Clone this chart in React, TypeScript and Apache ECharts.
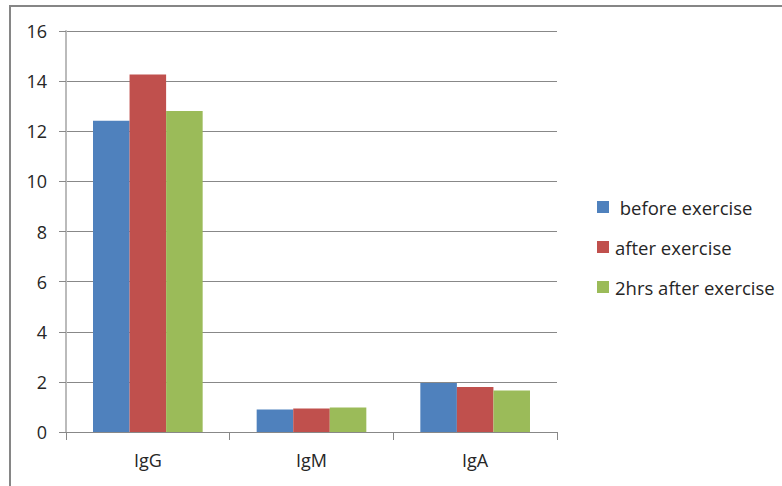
import React, { useEffect, useRef } from "react";
import * as echarts from "echarts";

const categories = ["IgG", "IgM", "IgA"];
const seriesNames = ["before exercise", "after exercise", "2hrs after exercise"];
const beforeExercise = [12.42, 0.9, 1.96];
const afterExercise = [14.26, 0.94, 1.8];
const twoHrsAfter = [12.81, 0.98, 1.66];
const colors = ["#4F81BD", "#C0504D", "#9BBB59"];

export default function App() {
  const ref = useRef<HTMLDivElement>(null);
  useEffect(() => {
    if (!ref.current) return;
    const chart = echarts.init(ref.current, undefined, { renderer: "svg" });
    const font = "Open Sans";
    const values = [beforeExercise, afterExercise, twoHrsAfter];
    chart.setOption({
      animation: false,
      backgroundColor: "#ffffff",
      graphic: [
        {
          type: "rect",
          shape: { x: 10, y: 6, width: 800, height: 500 },
          style: { fill: "none", stroke: "#868686", lineWidth: 2 },
          z: 10,
        },
      ],
      grid: { left: 66, right: 225, top: 31, bottom: 54 },
      legend: {
        orient: "vertical",
        left: 592,
        top: 192,
        itemWidth: 12,
        itemHeight: 12,
        itemGap: 20,
        icon: "rect",
        formatter: (n: string) => (n === "before exercise" ? " " + n : n),
        textStyle: {
          fontFamily: font,
          fontSize: 18.5,
          lineHeight: 20,
          color: "#262626",
          padding: [0, 0, 0, 1],
        },
        data: seriesNames,
      },
      xAxis: {
        type: "category",
        data: categories,
        axisLine: { lineStyle: { color: "#888888", width: 1 } },
        axisTick: { show: true, length: 8, lineStyle: { color: "#888888" } },
        axisLabel: { fontFamily: font, fontSize: 18, color: "#262626", margin: 19 },
      },
      yAxis: {
        type: "value",
        min: 0,
        max: 16,
        interval: 2,
        axisLine: { show: true, lineStyle: { color: "#bbbbbb", width: 2 } },
        axisTick: { show: true, length: 7, lineStyle: { color: "#888888" } },
        axisLabel: { fontFamily: font, fontSize: 18, color: "#262626", margin: 19 },
        splitLine: { lineStyle: { color: "#888888", width: 1 } },
      },
      series: seriesNames.map((name, i) => ({
        name,
        type: "bar",
        data: values[i],
        itemStyle: { color: colors[i] },
        barGap: "0%",
        barCategoryGap: "33%",
      })),
    });
    return () => chart.dispose();
  }, []);
  return (
    <div
      ref={ref}
      style={{ position: "fixed", left: 0, top: 0, width: 782, height: 486 }}
    />
  );
}
